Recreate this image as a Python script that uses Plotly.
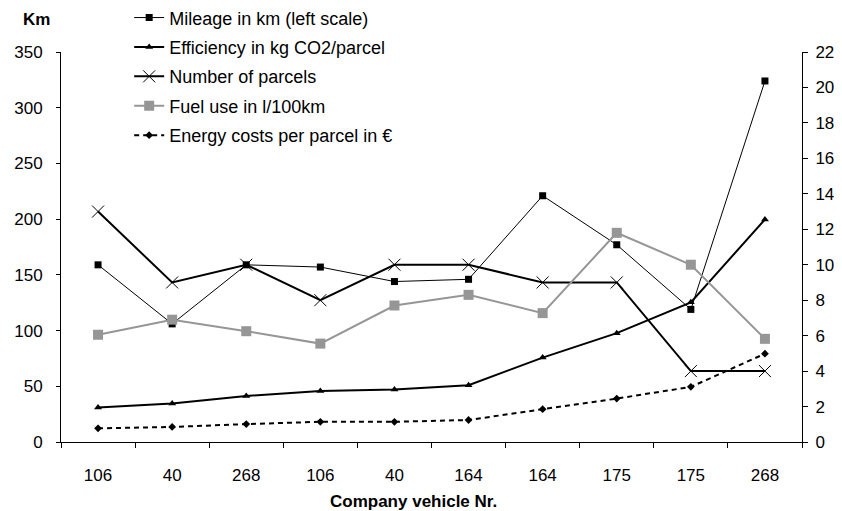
import plotly.graph_objects as go

# category labels (vehicle numbers repeat, so plot on positions)
vehicles = ['106', '40', '268', '106', '40', '164', '164', '175', '175', '268']
positions = list(range(len(vehicles)))

# left scale (km)
mileage_km = [159, 106, 159, 157, 144, 146, 221, 177, 119, 324]

# right scale
efficiency_co2 = [1.95, 2.17, 2.6, 2.88, 2.96, 3.2, 4.76, 6.14, 7.88, 12.55]
parcels = [13, 9, 10, 8, 10, 10, 9, 9, 4, 4]
fuel_use = [6.05, 6.9, 6.25, 5.55, 7.7, 8.3, 7.27, 11.8, 10.0, 5.82]
energy_costs = [0.77, 0.85, 1.01, 1.14, 1.14, 1.24, 1.85, 2.45, 3.11, 4.98]

font = 'Liberation Sans, Arial, sans-serif'
grey = '#969696'

fig = go.Figure()

fig.add_trace(go.Scatter(x=positions, y=mileage_km, name='Mileage in km (left scale)',
                         mode='lines+markers', legendgroup='a',
                         line=dict(color='black', width=1),
                         marker=dict(symbol='square', size=7, color='black')))

fig.add_trace(go.Scatter(x=positions, y=efficiency_co2, name='Efficiency in kg CO2/parcel',
                         mode='lines+markers', yaxis='y2', legendgroup='b',
                         line=dict(color='black', width=2),
                         marker=dict(symbol='triangle-up', size=7, color='black')))

fig.add_trace(go.Scatter(x=positions, y=parcels, name='Number of parcels',
                         mode='lines+markers', yaxis='y2', legendgroup='c',
                         line=dict(color='black', width=2),
                         marker=dict(symbol='x-thin-open', size=12,
                                     line=dict(color='black', width=1))))

fig.add_trace(go.Scatter(x=positions, y=fuel_use, name='Fuel use in l/100km',
                         mode='lines+markers', yaxis='y2', legendgroup='d',
                         line=dict(color=grey, width=2),
                         marker=dict(symbol='square', size=10, color=grey)))

fig.add_trace(go.Scatter(x=positions, y=energy_costs, name='Energy costs per parcel in €',
                         mode='lines+markers', yaxis='y2', legendgroup='e',
                         line=dict(color='black', width=2, dash='5px,4px'),
                         marker=dict(symbol='diamond', size=6, color='black')))

# the page body adds an 8px offset, so the figure is 8px smaller and margins shifted
fig.update_layout(
    width=834, height=503,
    margin=dict(l=53, r=40, t=44, b=69, autoexpand=False),
    paper_bgcolor='white', plot_bgcolor='white',
    font=dict(family=font, size=17, color='black'),
    showlegend=True,
    legend=dict(x=0.092, y=1.135, xanchor='left', yanchor='top',
                bgcolor='rgba(0,0,0,0)', font=dict(size=18),
                tracegroupgap=3),
    xaxis=dict(range=[-0.5, 9.5], tickvals=positions, ticktext=vehicles,
               ticks='', showline=True, linecolor='black', linewidth=1,
               showgrid=False, zeroline=False, ticklabelstandoff=18,
               minor=dict(tick0=-0.5, dtick=1, ticks='outside', ticklen=5,
                          tickcolor='black', showgrid=False)),
    xaxis2=dict(range=[-0.5, 9.5], overlaying='x', anchor='y', tick0=-0.5, dtick=1,
                ticks='inside', ticklen=6, tickcolor='black',
                showticklabels=False, showline=False, showgrid=False, zeroline=False),
    yaxis=dict(range=[0, 350], dtick=50, ticks='outside', ticklen=4,
               tickcolor='black', showline=True, linecolor='black',
               showgrid=False, zeroline=False, ticklabelstandoff=10),
    yaxis2=dict(range=[0, 22], dtick=2, overlaying='y', side='right',
                ticks='outside', ticklen=5, tickcolor='black', showline=True,
                linecolor='black', showgrid=False, zeroline=False,
                ticklabelstandoff=4),
    yaxis3=dict(range=[0, 350], dtick=50, overlaying='y', anchor='x',
                ticks='inside', ticklen=6, tickcolor='black',
                showticklabels=False, showline=False, showgrid=False, zeroline=False),
    yaxis4=dict(range=[0, 22], dtick=2, overlaying='y', side='right', anchor='x',
                ticks='inside', ticklen=6, tickcolor='black',
                showticklabels=False, showline=False, showgrid=False, zeroline=False),
    annotations=[
        dict(text='<b>Km</b>', xref='paper', yref='paper',
             x=-0.054, y=1.113, showarrow=False, font=dict(size=17)),
        dict(text='<b>Company vehicle Nr.</b>', xref='paper', yref='paper',
             x=0.476, y=-0.153, xanchor='center', yanchor='middle',
             showarrow=False, font=dict(size=17)),
    ],
)

fig.write_html("out.html")
